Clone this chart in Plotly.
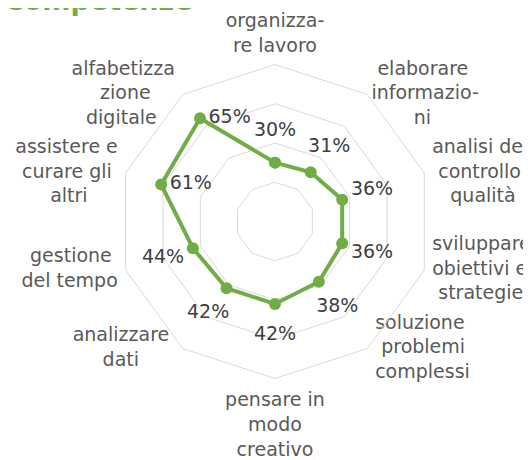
import plotly.graph_objects as go

categories = [
    "organizzare lavoro", "elaborare informazioni", "analisi del controllo qualità",
    "sviluppare obiettivi e strategie", "soluzione problemi complessi",
    "pensare in modo creativo", "analizzare dati", "gestione del tempo",
    "assistere e curare gli altri", "alfabetizzazione digitale",
]
tick_labels = [
    "organizza-<br>re lavoro", "elaborare<br>informazio-<br>ni", "analisi del<br>controllo<br>qualità",
    "sviluppare<br>obiettivi e<br>strategie", "soluzione<br>problemi<br>complessi",
    "pensare in<br>modo<br>creativo", "analizzare<br>dati", "gestione<br>del tempo",
    "assistere e<br>curare gli<br>altri", "alfabetizza<br>zione<br>digitale",
]
values = [0.30, 0.31, 0.36, 0.36, 0.38, 0.42, 0.42, 0.44, 0.61, 0.65]
# "out": label placed outward from the point; "right": label to the right of the point
label_side = ["out", "out", "out", "out", "out", "out", "out", "out", "right", "right"]
# where each category label sits relative to its outer grid vertex
cat_label_pos = ["top center", "middle right", "middle right", "middle right", "middle right",
                 "bottom center", "middle left", "middle left", "middle left", "middle left"]
# gap (as invisible marker size, px) between each category label and its vertex
cat_label_gap = [11, 5, 11, 11, 11, 20, 20, 11, 11, 11]

AXIS_MAX = 0.8
GREEN = "#70AD47"
FONT = "DejaVu Sans"
NBSP = "\u00a0"

# approximate DejaVu Sans glyph widths (em) used to centre multi-line labels
_W = {"a": .613, "b": .635, "c": .550, "d": .635, "e": .615, "f": .352, "g": .635,
      "h": .634, "i": .278, "l": .278, "m": .974, "n": .634, "o": .612, "p": .635,
      "q": .635, "r": .411, "s": .521, "t": .392, "u": .634, "v": .592, "z": .525,
      "à": .613, " ": .318, "-": .361}


def _width(s):
    return sum(_W.get(ch, .6) for ch in s)


def centre_label(label, pos):
    if pos.endswith("center"):
        return label
    lines = label.split("<br>")
    mw = max(_width(l) for l in lines)
    out = []
    for l in lines:
        k = int(round((mw - _width(l)) / 2 / _W[" "]))
        out.append(NBSP * k + l if pos.endswith("right") else l + NBSP * k)
    return "<br>".join(out)


cat_text = [centre_label(t, p) for t, p in zip(tick_labels, cat_label_pos)]

LABEL_OFFSET = 0.16
text_r = [v + LABEL_OFFSET if s == "out" else v for v, s in zip(values, label_side)]
text_pos = ["middle center" if s == "out" else "middle right" for s in label_side]
texts = [f"{round(v * 100)}%" for v in values]

fig = go.Figure()
fig.add_trace(go.Scatterpolar(
    r=values + [values[0]], theta=categories + [categories[0]], mode="lines+markers",
    line=dict(color=GREEN, width=4),
    marker=dict(color=GREEN, size=12),
    showlegend=False, hoverinfo="skip",
))
fig.add_trace(go.Scatterpolar(
    r=text_r, theta=categories, mode="markers+text",
    marker=dict(size=12, color="rgba(0,0,0,0)"),
    text=texts, textposition=text_pos,
    textfont=dict(family=FONT, size=19, color="#404040"),
    cliponaxis=False, showlegend=False, hoverinfo="skip",
))
fig.add_trace(go.Scatterpolar(
    r=[AXIS_MAX] * len(categories), theta=categories, mode="markers+text",
    marker=dict(size=cat_label_gap, color="rgba(0,0,0,0)"),
    text=cat_text, textposition=cat_label_pos,
    textfont=dict(family=FONT, size=19, color="#595959"),
    cliponaxis=False, showlegend=False, hoverinfo="skip",
))

W, H = 531, 460
# page body adds an 8px offset; positions below are in figure pixels
cx, cy, R = 267, 213.5, 157
fig.update_layout(
    width=W, height=H,
    margin=dict(l=0, r=0, t=0, b=0),
    paper_bgcolor="white",
    font=dict(family=FONT, color="#595959", size=19),
    annotations=[dict(text="<b>Competenze</b>", x=0, xref="paper", xanchor="left",
                      xshift=-6, y=1, yref="paper", yanchor="middle", yshift=8,
                      showarrow=False,
                      font=dict(family=FONT, size=27, color=GREEN))],
    polar=dict(
        domain=dict(x=[(cx - R) / W, (cx + R) / W],
                    y=[(H - cy - R) / H, (H - cy + R) / H]),
        bgcolor="white",
        gridshape="linear",
        radialaxis=dict(range=[0, AXIS_MAX], dtick=0.2, showticklabels=False, ticks="",
                        showline=False, showgrid=True, gridcolor="#d9d9d9", gridwidth=1),
        angularaxis=dict(direction="clockwise", rotation=90, type="category",
                         categoryarray=categories,
                         showticklabels=False, ticks="", showgrid=False, showline=True,
                         linecolor="#d9d9d9", linewidth=1),
    ),
)
fig.write_html("out.html")
